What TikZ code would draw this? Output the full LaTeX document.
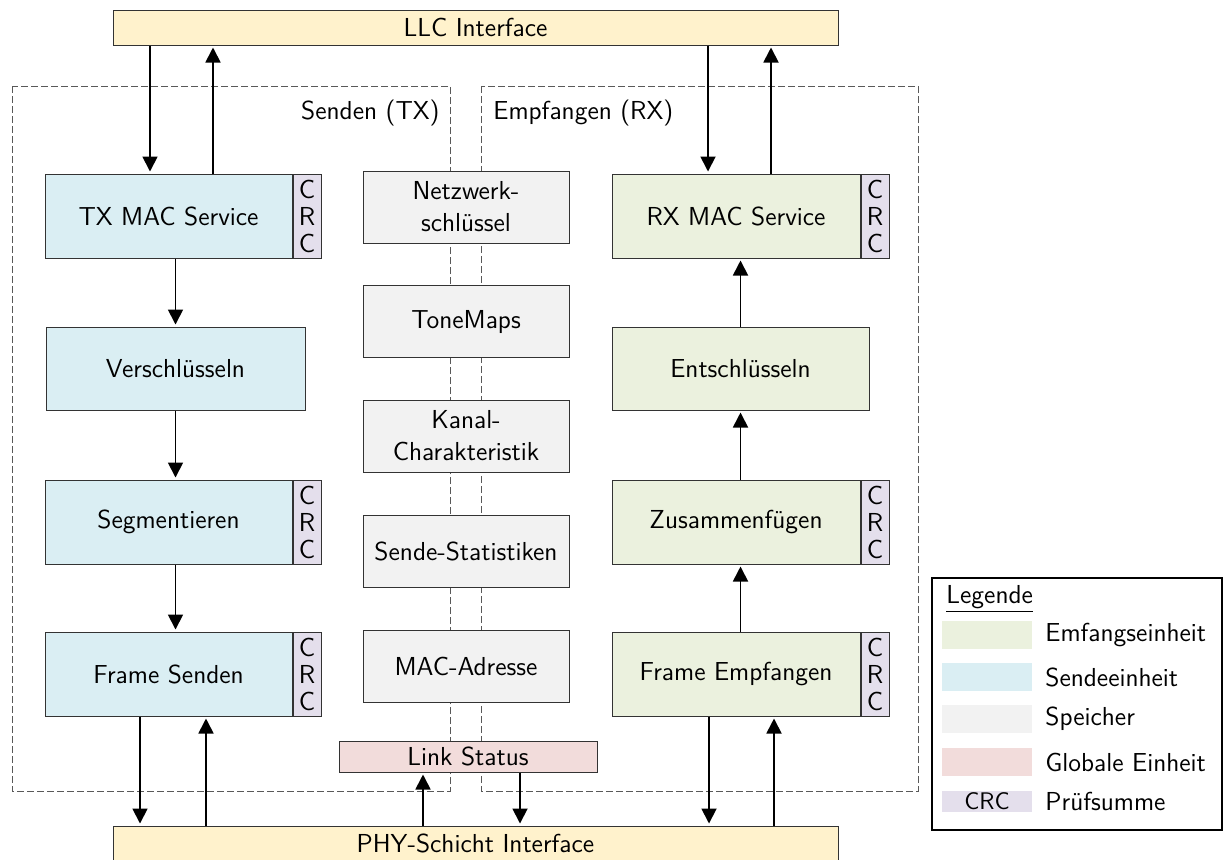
\documentclass[tikz,border=0pt]{standalone}
\usetikzlibrary{arrows.meta}

\definecolor{txblue}{HTML}{DAEEF3}
\definecolor{rxgreen}{HTML}{EBF1DE}
\definecolor{memgray}{HTML}{F2F2F2}
\definecolor{linkred}{HTML}{F2DCDB}
\definecolor{crcviolet}{HTML}{E4DFEC}
\definecolor{ifyellow}{HTML}{FFF2CC}

\tikzset{
  unit/.style={draw=black!80, line width=0.5pt, inner sep=0pt, align=center,
    font=\sffamily\fontsize{13}{16}\selectfont, minimum height=42pt},
  txunit/.style={unit, fill=txblue, minimum width=123.5pt},
  rxunit/.style={unit, fill=rxgreen, minimum width=124pt},
  memunit/.style={unit, fill=memgray, minimum width=103pt, minimum height=36pt},
  crcunit/.style={unit, fill=crcviolet, minimum width=14pt, anchor=west,
    font=\sffamily\fontsize{13}{13.5}\selectfont},
  iface/.style={unit, fill=ifyellow, minimum width=362.5pt, minimum height=17.5pt},
  frame/.style={draw=black!65, line width=0.5pt, dash pattern=on 3.5pt off 1.5pt},
  arr/.style={-{Triangle[length=7.5pt,width=7.5pt]}, line width=0.9pt, shorten >=1pt},
  swatch/.style={minimum width=45pt, minimum height=14pt, inner sep=0pt,
    font=\sffamily\fontsize{12}{14}\selectfont},
  legtext/.style={anchor=west, inner sep=0pt, font=\sffamily\fontsize{13}{16}\selectfont}
}

\begin{document}
\begin{tikzpicture}[x=0.5pt, y=-0.5pt]
\useasboundingbox (0,0) rectangle (1224,859);

% Bereiche TX / RX
\draw[frame] (12,86) rectangle (450,791);
\draw[frame] (481,86) rectangle (918,791);
\node[legtext, anchor=east] (txlabel) at (440,113) {Senden (TX)};
\node[legtext] (rxlabel) at (493,113) {Empfangen (RX)};

% Schnittstellen
\node[iface] (llc) at (475.5,27.5) {LLC Interface};
\node[iface] (phy) at (475.5,843.5) {PHY-Schicht Interface};

% Sendeeinheiten
\node[txunit] (txmac) at (168.5,216) {TX MAC Service};
\node[crcunit] (txmaccrc) at (txmac.east) {C\\R\\C};
\node[txunit, minimum width=129.5pt, minimum height=41.5pt] (versch) at (175.5,368.5) {Verschlüsseln};
\node[txunit] (segm) at (168.5,522) {Segmentieren};
\node[crcunit] (segmcrc) at (segm.east) {C\\R\\C};
\node[txunit] (txframe) at (168.5,674) {Frame Senden};
\node[crcunit] (txframecrc) at (txframe.east) {C\\R\\C};

% Empfangseinheiten
\node[rxunit] (rxmac) at (736,216) {RX MAC Service};
\node[crcunit] (rxmaccrc) at (rxmac.east) {C\\R\\C};
\node[rxunit, minimum width=128.5pt, minimum height=41.5pt] (entsch) at (740.5,368.5) {Entschlüsseln};
\node[rxunit] (zusam) at (736,522) {Zusammenfügen};
\node[crcunit] (zusamcrc) at (zusam.east) {C\\R\\C};
\node[rxunit] (rxframe) at (736,674) {Frame Empfangen};
\node[crcunit] (rxframecrc) at (rxframe.east) {C\\R\\C};

% Speicher
\node[memunit] (nwk) at (466,207) {Netzwerk-\\schlüssel};
\node[memunit] (tmaps) at (466,321.5) {ToneMaps};
\node[memunit] (kanal) at (466,436) {Kanal-\\Charakteristik};
\node[memunit] (stat) at (466,551) {Sende-Statistiken};
\node[memunit] (macadr) at (466,666) {MAC-Adresse};
\node[unit, fill=linkred, minimum width=129pt, minimum height=15.5pt] (link) at (468,756.5) {Link Status};

% Pfeile
\coordinate (l1) at (150,0);
\coordinate (l2) at (213,0);
\coordinate (r1) at (708,0);
\coordinate (r2) at (771,0);
\coordinate (p1) at (140,0);
\coordinate (p2) at (206,0);
\coordinate (p3) at (709,0);
\coordinate (p4) at (774,0);
\coordinate (s1) at (423,0);
\coordinate (s2) at (520,0);

\draw[arr] (llc.south -| l1) -- (txmac.north -| l1);
\draw[arr] (txmac.north -| l2) -- (llc.south -| l2);
\draw[arr] (llc.south -| r1) -- (rxmac.north -| r1);
\draw[arr] (rxmac.north -| r2) -- (llc.south -| r2);

\draw[arr] (txmac.south -| versch) -- (versch.north);
\draw[arr] (versch.south) -- (segm.north -| versch);
\draw[arr] (segm.south -| versch) -- (txframe.north -| versch);

\draw[arr] (rxframe.north -| entsch) -- (zusam.south -| entsch);
\draw[arr] (zusam.north -| entsch) -- (entsch.south);
\draw[arr] (entsch.north) -- (rxmac.south -| entsch);

\draw[arr] (txframe.south -| p1) -- (phy.north -| p1);
\draw[arr] (phy.north -| p2) -- (txframe.south -| p2);
\draw[arr] (rxframe.south -| p3) -- (phy.north -| p3);
\draw[arr] (phy.north -| p4) -- (rxframe.south -| p4);
\draw[arr] (phy.north -| s1) -- (link.south -| s1);
\draw[arr] (link.south -| s2) -- (phy.north -| s2);

% Legende
\node[draw, line width=1pt, minimum width=145pt, minimum height=126pt, inner sep=0pt] (legend) at (1077,704) {};
\node[legtext] (legtitle) at (946,599) {\underline{Legende}};
\node[swatch, fill=rxgreen] (swrx) at (987,635) {};
\node[swatch, fill=txblue] (swtx) at (987,677) {};
\node[swatch, fill=memgray] (swmem) at (987,719) {};
\node[swatch, fill=linkred] (swlink) at (987,762) {};
\node[swatch, fill=crcviolet, minimum height=10.5pt] (swcrc) at (987,801) {CRC};
\node[legtext] (ltrx) at (1045,635) {Emfangseinheit};
\node[legtext] (lttx) at (1045,677) {Sendeeinheit};
\node[legtext] (ltmem) at (1045,719) {Speicher};
\node[legtext] (ltlink) at (1045,762) {Globale Einheit};
\node[legtext] (ltcrc) at (1045,801) {Prüfsumme};

\end{tikzpicture}
\end{document}
